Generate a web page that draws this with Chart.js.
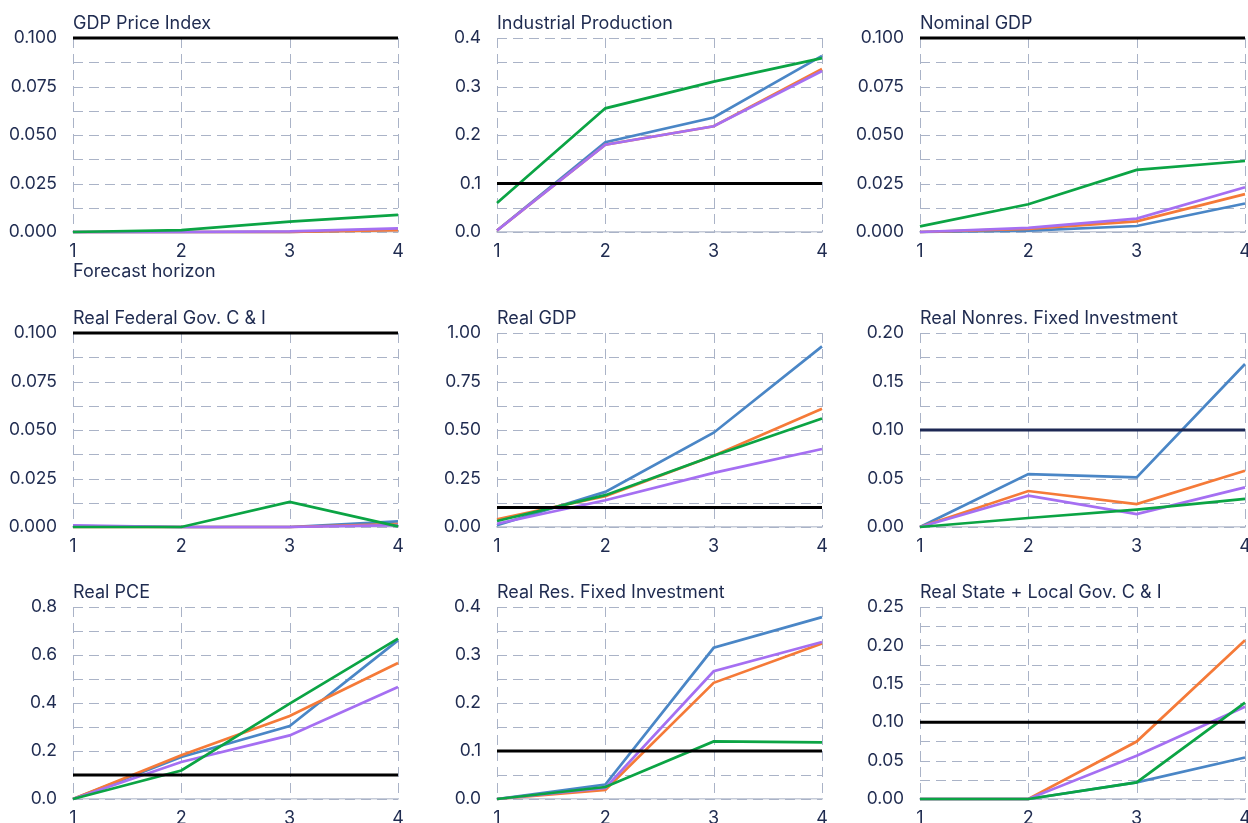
<!DOCTYPE html>
<html>
<head>
<meta charset="utf-8">
<script src="https://cdn.jsdelivr.net/npm/chart.js@4"></script>
<style>
  html, body { margin: 0; padding: 0; background: #fff; }
  body { width: 1248px; height: 823px; position: relative; overflow: hidden; }
  .panel { position: absolute; }
</style>
</head>
<body>
<script>
const horizon = ["1", "2", "3", "4"];
const titles = [
  "GDP Price Index", "Industrial Production", "Nominal GDP",
  "Real Federal Gov. C & I", "Real GDP", "Real Nonres. Fixed Investment",
  "Real PCE", "Real Res. Fixed Investment", "Real State + Local Gov. C & I",
];
const yMax = [0.1, 0.4, 0.1, 0.1, 1.0, 0.2, 0.8, 0.4, 0.25];
const yStep = [0.025, 0.1, 0.025, 0.025, 0.25, 0.05, 0.2, 0.1, 0.05];
const yDecimals = [3, 1, 3, 3, 2, 2, 1, 1, 2];
const threshold = 0.1;

const blueValues = [
  [0, 0, 0, 0.0012],
  [0.003, 0.185, 0.236, 0.363],
  [0, 0.0007, 0.0031, 0.0147],
  [0.0005, 0, 0, 0.0029],
  [0.009, 0.181, 0.486, 0.931],
  [0, 0.0546, 0.0512, 0.168],
  [0, 0.175, 0.304, 0.661],
  [0, 0.030, 0.315, 0.379],
  [0, 0, 0.0216, 0.054],
];
const orangeValues = [
  [0, 0, 0, 0.001],
  [0.003, 0.180, 0.218, 0.336],
  [0, 0.0016, 0.0055, 0.0195],
  [0, 0, 0, 0.0015],
  [0.040, 0.159, 0.367, 0.609],
  [0, 0.0371, 0.0237, 0.058],
  [0, 0.182, 0.346, 0.567],
  [0, 0.019, 0.242, 0.324],
  [0, 0, 0.0748, 0.2067],
];
const purpleValues = [
  [0, 0, 0.0003, 0.0019],
  [0.003, 0.180, 0.218, 0.332],
  [0, 0.0021, 0.0069, 0.0231],
  [0.0008, 0, 0, 0.001],
  [0.017, 0.138, 0.279, 0.402],
  [0, 0.0323, 0.0134, 0.0409],
  [0, 0.154, 0.265, 0.467],
  [0, 0.023, 0.266, 0.327],
  [0, 0, 0.0562, 0.120],
];
const greenValues = [
  [0, 0.001, 0.0053, 0.0088],
  [0.060, 0.255, 0.310, 0.3585],
  [0.0029, 0.0143, 0.032, 0.0366],
  [0, 0, 0.0129, 0.0003],
  [0.031, 0.164, 0.367, 0.559],
  [0, 0.0093, 0.0179, 0.0289],
  [0, 0.119, 0.397, 0.668],
  [0, 0.025, 0.120, 0.118],
  [0, 0, 0.0216, 0.1254],
];

const BLUE = "#4a86c6";
const ORANGE = "#f57a38";
const PURPLE = "#a56ff2";
const GREEN = "#0ba444";
const TEXT = "#1f2b50";
const GRID = "#aab3c7";
const FONT = "Inter, 'Noto Sans', sans-serif";

const colLeft = [73, 497, 920];
const rowTop = [38, 333, 607];
const rowHeight = [194, 194, 192];
const plotWidth = 325;
const axisWidth = 72;
const titleSpace = 34;

// dashed grid drawn from the scales' own ticks
const dashedGrid = {
  id: "dashedGrid",
  beforeDatasetsDraw(chart) {
    const {ctx, chartArea, scales} = chart;
    ctx.save();
    ctx.strokeStyle = GRID;
    ctx.lineWidth = 1;
    ctx.setLineDash([10, 6]);
    scales.y.ticks.forEach((t) => {
      const y = Math.round(scales.y.getPixelForValue(t.value)) + 0.5;
      ctx.beginPath();
      ctx.moveTo(chartArea.left, y);
      ctx.lineTo(chartArea.right, y);
      ctx.stroke();
    });
    scales.x.ticks.forEach((t, k) => {
      const x = Math.round(scales.x.getPixelForTick(k)) + 0.5;
      ctx.beginPath();
      ctx.moveTo(x, chartArea.top);
      ctx.lineTo(x, chartArea.bottom);
      ctx.stroke();
    });
    ctx.restore();
  },
};

function line(values, color, width) {
  return {
    data: values,
    borderColor: color,
    backgroundColor: color,
    borderWidth: width,
    pointRadius: 0,
    tension: 0,
    fill: false,
    clip: 4,
  };
}

titles.forEach((title, i) => {
  const row = Math.floor(i / 3);
  const col = i % 3;
  const withXTitle = i === 0;
  const xHeight = withXTitle ? 50 : 30;

  const box = document.createElement("div");
  box.className = "panel";
  box.style.left = (colLeft[col] - axisWidth) + "px";
  box.style.top = (rowTop[row] - titleSpace) + "px";
  box.style.width = (axisWidth + plotWidth + 8) + "px";
  box.style.height = (titleSpace + rowHeight[row] + xHeight) + "px";
  const canvas = document.createElement("canvas");
  box.appendChild(canvas);
  document.body.appendChild(box);

  const ruleColor = i === 5 ? "#1d2854" : "#000000";

  new Chart(canvas.getContext("2d"), {
    type: "line",
    data: {
      labels: horizon,
      datasets: [
        line(horizon.map(() => threshold), ruleColor, 3),
        line(greenValues[i], GREEN, 2.7),
        line(purpleValues[i], PURPLE, 2.7),
        line(orangeValues[i], ORANGE, 2.7),
        line(blueValues[i], BLUE, 2.7),
      ],
    },
    options: {
      responsive: true,
      maintainAspectRatio: false,
      animation: false,
      events: [],
      layout: { padding: { left: 0, right: 8, top: 0, bottom: 0 } },
      plugins: {
        legend: { display: false },
        tooltip: { enabled: false },
        title: {
          display: true,
          text: title,
          align: "start",
          fullSize: false,
          color: TEXT,
          font: { family: FONT, size: 18, weight: "normal", lineHeight: 1.2 },
          padding: { top: 8.7, bottom: 3.7 },
        },
      },
      scales: {
        x: {
          type: "category",
          offset: false,
          grid: { display: false },
          border: { display: true, color: "#c5cbd8", width: 1.5 },
          ticks: { color: TEXT, font: { family: FONT, size: 18, lineHeight: 1.2 }, padding: 1, maxRotation: 0 },
          title: {
            display: withXTitle,
            text: "Forecast horizon",
            align: "start",
            color: TEXT,
            font: { family: FONT, size: 18, lineHeight: 1.2 },
            padding: { top: 0, bottom: 0 },
          },
          afterFit: (s) => { s.height = xHeight; },
        },
        y: {
          min: 0,
          max: yMax[i],
          grid: { display: false },
          border: { display: false },
          ticks: {
            stepSize: yStep[i] / 2,
            autoSkip: false,
            color: TEXT,
            font: { family: FONT, size: 17.5 },
            padding: 8,
            callback: (value, index) => index % 2 === 0 ? Number(value).toFixed(yDecimals[i]) : "",
          },
          afterFit: (s) => { s.width = axisWidth; },
        },
      },
    },
    plugins: [dashedGrid],
  });
});
</script>
</body>
</html>
